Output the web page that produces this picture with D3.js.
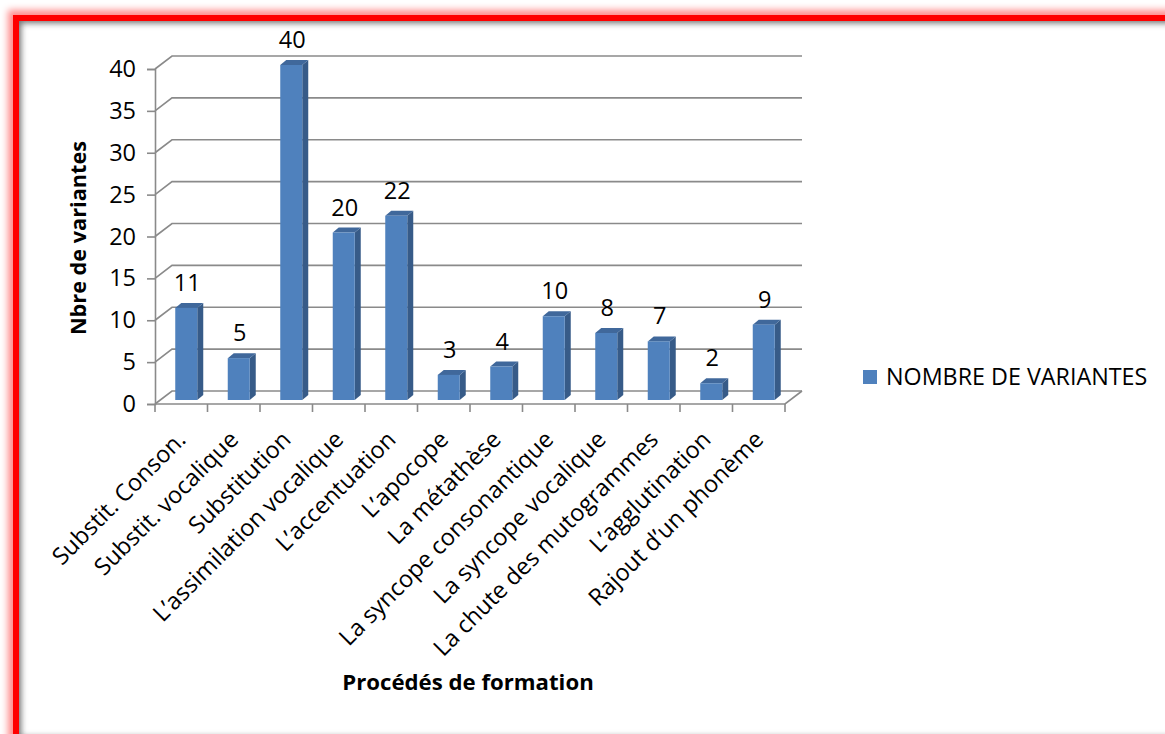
<!DOCTYPE html>
<html>
<head>
<meta charset="utf-8">
<script src="https://cdn.jsdelivr.net/npm/d3@7"></script>
<style>
  html, body { margin: 0; padding: 0; background: #fff; }
  svg { display: block; }
  text { font-family: "Open Sans", "Noto Sans", sans-serif; fill: #000; }
</style>
</head>
<body>
<svg id="chart" width="1165" height="734"></svg>
<script>
// Procédés de formation et nombre de variantes
const categories = [
  "Substit. Conson.",
  "Substit. vocalique",
  "Substitution",
  "L\u2019assimilation vocalique",
  "L\u2019accentuation",
  "L\u2019apocope",
  "La métathèse",
  "La syncope consonantique",
  "La syncope vocalique",
  "La chute des mutogrammes",
  "L\u2019agglutination",
  "Rajout d\u2019un phonème"
];
const variantes = [11, 5, 40, 20, 22, 3, 4, 10, 8, 7, 2, 9];
const yTicks = [0, 5, 10, 15, 20, 25, 30, 35, 40];
const seriesName = "NOMBRE DE VARIANTES";

const svg = d3.select("#chart");
const W = 1165, H = 734;
const fontSize = 23.5;

// ---------- frame ----------
const defs = svg.append("defs");
defs.append("filter").attr("id", "glow").attr("x", "-10%").attr("y", "-10%").attr("width", "120%").attr("height", "120%")
  .append("feGaussianBlur").attr("stdDeviation", 3.5);
defs.append("filter").attr("id", "soft").attr("x", "-10%").attr("y", "-10%").attr("width", "120%").attr("height", "120%")
  .append("feGaussianBlur").attr("stdDeviation", 3);
defs.append("clipPath").attr("id", "inside")
  .append("rect").attr("x", 19).attr("y", 21).attr("width", W).attr("height", H);

const fx = 16, fy = 18, fw = 1170, fh = 724;
svg.append("rect").attr("width", W).attr("height", H).attr("fill", "#fff");
svg.append("rect").attr("x", fx).attr("y", fy).attr("width", fw).attr("height", fh)
  .attr("fill", "none").attr("stroke", "#ff0000").attr("stroke-opacity", 0.45)
  .attr("stroke-width", 16).attr("filter", "url(#glow)");
svg.append("rect").attr("x", 19).attr("y", 21).attr("width", W).attr("height", H).attr("fill", "#fff");
svg.append("g").attr("clip-path", "url(#inside)")
  .append("rect").attr("x", fx).attr("y", fy).attr("width", fw).attr("height", fh)
  .attr("fill", "none").attr("stroke", "#6e6e6e").attr("stroke-width", 10)
  .attr("filter", "url(#soft)");
svg.append("rect").attr("x", fx).attr("y", fy).attr("width", fw).attr("height", fh)
  .attr("fill", "none").attr("stroke", "#ff0000").attr("stroke-width", 6);

// ---------- 3D plot geometry ----------
const x = d3.scaleBand().domain(categories).range([155, 785]).padding(0);
const y = d3.scaleLinear().domain([0, 40]).range([404, 69]);
const depth = { dx: 17, dy: -13 };      // floor depth (front edge to back wall)
const barOff = { dx: 5, dy: -4 };       // front face of bars inside the floor
const barDepth = { dx: 6, dy: -5 };     // thickness of each column
const barW = 22;
const gridColor = "#8a8a8a";

const plot = svg.append("g");

// gridlines on back wall + side wall diagonals
yTicks.forEach(v => {
  const yf = y(v), yb = y(v) + depth.dy;
  plot.append("path")
    .attr("d", `M${x.range()[0]},${yf}L${x.range()[0] + depth.dx},${yb}L${x.range()[1] + depth.dx},${yb}`)
    .attr("fill", "none").attr("stroke", gridColor).attr("stroke-width", 1.6);
});

// floor: front edge and right edge
plot.append("path")
  .attr("d", `M${x.range()[0]},${y(0)}L${x.range()[1]},${y(0)}L${x.range()[1] + depth.dx},${y(0) + depth.dy}`)
  .attr("fill", "none").attr("stroke", gridColor).attr("stroke-width", 1.6);

// value axis (front)
const yAxis = d3.axisLeft(y).tickValues(yTicks).tickSize(8).tickPadding(6);
const yg = plot.append("g").attr("transform", `translate(${x.range()[0]},0)`).call(yAxis);
yg.select(".domain").attr("stroke", gridColor).attr("stroke-width", 1.6);
yg.selectAll(".tick line").attr("stroke", gridColor).attr("stroke-width", 1.6);
yg.selectAll(".tick text").attr("font-size", fontSize).attr("font-family", "Open Sans").attr("fill", "#000").attr("dx", "-5");

// category axis ticks
const xTickPos = categories.map(c => x(c)).concat([x.range()[1]]);
plot.selectAll(".xtick").data(xTickPos).join("line")
  .attr("x1", d => d).attr("x2", d => d)
  .attr("y1", y(0)).attr("y2", y(0) + 8)
  .attr("stroke", gridColor).attr("stroke-width", 1.6);

// ---------- columns ----------
const bars = plot.selectAll(".bar").data(variantes.map((v, i) => ({ v, c: categories[i] })))
  .join("g").attr("class", "bar");

bars.each(function (d) {
  const g = d3.select(this);
  const x0 = x(d.c) + x.bandwidth() / 2 + barOff.dx - barW / 2;
  const x1 = x0 + barW;
  const yb = y(0) + barOff.dy;
  const yt = y(d.v) + barOff.dy;
  const ddx = barDepth.dx, ddy = barDepth.dy;
  // side
  g.append("path")
    .attr("d", `M${x1},${yb}L${x1 + ddx},${yb + ddy}L${x1 + ddx},${yt + ddy}L${x1},${yt}Z`)
    .attr("fill", "#375b88");
  // top
  g.append("path")
    .attr("d", `M${x0},${yt}L${x0 + ddx},${yt + ddy}L${x1 + ddx},${yt + ddy}L${x1},${yt}Z`)
    .attr("fill", "#40689b");
  // front
  g.append("rect").attr("x", x0).attr("y", yt).attr("width", barW).attr("height", yb - yt)
    .attr("fill", "#4f81bd");
  // value label
  g.append("text")
    .attr("x", x0 + barW / 2 + 1)
    .attr("y", yt + ddy - 12)
    .attr("text-anchor", "middle")
    .attr("font-size", fontSize)
    .text(d.v);
});

// category labels, rotated
plot.selectAll(".xlab").data(categories).join("text")
  .attr("class", "xlab")
  .attr("text-anchor", "end")
  .attr("font-size", fontSize)
  .attr("transform", d => `translate(${x(d) + x.bandwidth() / 2 + 6},${y(0) + 37}) rotate(-45)`)
  .text(d => d);

// axis titles
svg.append("text")
  .attr("transform", `translate(86,238) rotate(-90)`)
  .attr("text-anchor", "middle")
  .attr("font-size", 21.7).attr("font-weight", "bold")
  .text("Nbre de variantes");

svg.append("text")
  .attr("x", 468).attr("y", 690)
  .attr("text-anchor", "middle")
  .attr("font-size", 22.2).attr("font-weight", "bold")
  .text("Procédés de formation");

// legend
const lg = svg.append("g").attr("transform", "translate(863,370)");
lg.append("rect").attr("width", 14).attr("height", 14).attr("fill", "#4f81bd");
lg.append("text").attr("x", 23).attr("y", 15).attr("font-size", 23.3).text(seriesName);
</script>
</body>
</html>
